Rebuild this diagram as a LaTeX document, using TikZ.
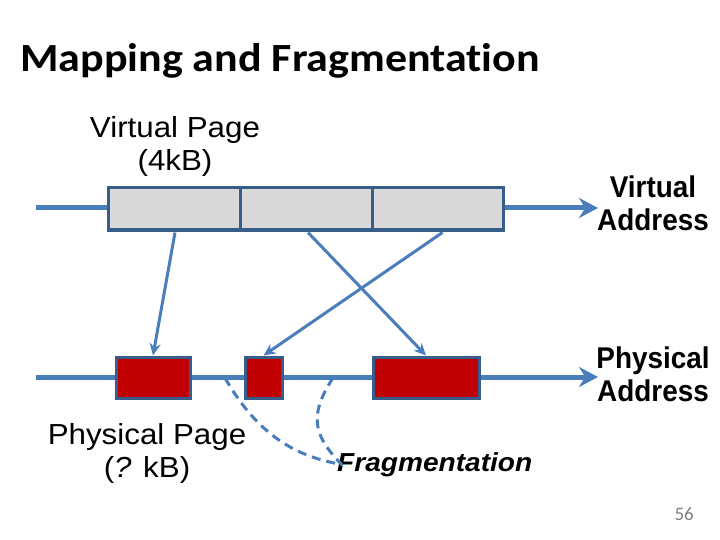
\documentclass[tikz,border=0pt]{standalone}
\usepackage{fontspec}
\usetikzlibrary{arrows.meta}
\setmainfont{Liberation Sans}
\newfontfamily\titlefont[FakeStretch=1.1,RawFeature=-liga]{Carlito}
\newfontfamily\arialw[FakeStretch=1.08]{Liberation Sans}
\newfontfamily\arialb[FakeStretch=0.93]{Liberation Sans}
\newfontfamily\calib{Carlito}
\definecolor{lineblue}{HTML}{4A7EBB}
\definecolor{boxedge}{HTML}{385D8A}
\definecolor{pagegray}{HTML}{D9D9D9}
\definecolor{pagered}{HTML}{C00000}
\tikzset{
  addrline/.style={draw=lineblue, line width=5pt, -{Stealth[length=19pt,width=20pt]}},
  vpage/.style={draw=boxedge, line width=3pt, fill=pagegray, minimum height=42pt, inner sep=0pt},
  ppage/.style={draw=boxedge, line width=3pt, fill=pagered, minimum height=41pt, inner sep=0pt},
  mapline/.style={draw=lineblue, line width=3pt, -{Stealth[length=12pt,width=11pt]}},
  fragline/.style={draw=lineblue, line width=3pt, dash pattern=on 9pt off 6pt},
  lbl/.style={align=center, inner sep=0pt, font=\arialw\fontsize{29}{33}\selectfont},
  addrlbl/.style={align=center, inner sep=0pt, font=\arialb\bfseries\fontsize{30}{33}\selectfont},
}
\begin{document}
\begin{tikzpicture}[x=1pt,y=-1pt]
\useasboundingbox[fill=white] (0,0) rectangle (720,540);
% title
\node[anchor=base west, inner sep=0pt, font=\titlefont\bfseries\fontsize{40}{48}\selectfont] (title) at (20,72) {Mapping and Fragmentation};
% address lines
\coordinate (vstart) at (36,208);
\coordinate (vend) at (598,208);
\coordinate (pstart) at (36,377);
\coordinate (pend) at (598,377);
\draw[addrline] (vstart) -- (vend);
\draw[addrline] (pstart) -- (pend);
% virtual pages
\node[vpage, minimum width=132pt] (g1) at (174,209) {};
\node[vpage, minimum width=132pt] (g2) at (306,209) {};
\node[vpage, minimum width=131pt] (g3) at (437.5,209) {};
% physical pages
\node[ppage, minimum width=74pt] (r1) at (153,377.5) {};
\node[ppage, minimum width=37pt] (r2) at (263.5,377.5) {};
\node[ppage, minimum width=106pt] (r3) at (426,377.5) {};
% mapping arrows
\draw[mapline] (g1.south) ++(1,1) -- (r1.north);
\draw[mapline] (g2.south) ++(2,1) -- (r3.north);
\draw[mapline] ([xshift=5pt,yshift=-1pt]g3.south) -- (r2.north);
% labels
\node[lbl] (vplbl) at (175,146) {Virtual Page\\(4kB)};
\node[lbl] (pplbl) at (147,453) {Physical Page\\({\itshape ?} kB)};
\node[addrlbl] (valbl) at (653,203) {Virtual\\Address};
\node[addrlbl] (palbl) at (653,374) {Physical\\Address};
\node[anchor=base west, inner sep=0pt, font=\arialw\bfseries\itshape\fontsize{26}{30}\selectfont] (frag) at (337,471) {Fragmentation};
\node[anchor=base east, inner sep=0pt, text=gray, font=\calib\fontsize{19}{22}\selectfont] (pnum) at (694,520) {56};
% fragmentation curves
\coordinate (f1) at (225,378);
\coordinate (f2) at (333,378);
\draw[fragline] (f1) .. controls (255,430) and (290,455) .. ([xshift=2pt,yshift=-12pt]frag.north west);
\draw[fragline] (f2) .. controls (305,420) and (318,440) .. ([xshift=6pt,yshift=-14pt]frag.north west);
\end{tikzpicture}
\end{document}
